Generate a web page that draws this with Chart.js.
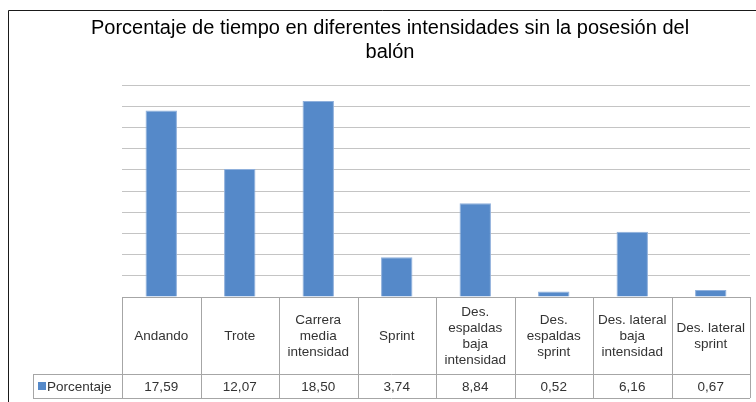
<!DOCTYPE html>
<html>
<head>
<meta charset="utf-8">
<script src="https://cdn.jsdelivr.net/npm/chart.js@4"></script>
<style>
  html, body { margin: 0; padding: 0; background: #fff; }
  #wrap { width: 756px; height: 402px; position: relative; }
</style>
</head>
<body>
<div id="wrap"><canvas id="barChart"></canvas></div>
<script>
// datos
const categorias = [
  'Andando',
  'Trote',
  ['Carrera', 'media', 'intensidad'],
  'Sprint',
  ['Des.', 'espaldas', 'baja', 'intensidad'],
  ['Des.', 'espaldas', 'sprint'],
  ['Des. lateral', 'baja', 'intensidad'],
  ['Des. lateral', 'sprint']
];
const porcentaje = [17.59, 12.07, 18.50, 3.74, 8.84, 0.52, 6.16, 0.67];
const serieNombre = 'Porcentaje';
const tituloLineas = ['Porcentaje de tiempo en diferentes intensidades sin la posesión del', 'balón'];

const barColor = '#5589c9';
const gridColor = '#c4c4c4';
const tableLine = '#a6a6a6';
const textColor = '#333333';
const fontFam = '"Liberation Sans", Arial, sans-serif';

// tabla de datos debajo del grafico
const tablaPlugin = {
  id: 'tablaDatos',
  afterDraw(chart) {
    const ctx = chart.ctx;
    const x = chart.scales.x;
    const area = chart.chartArea;
    const top = area.bottom;
    const filaVal = 374;
    const bottom = 398;
    const labelLeft = 33;
    const half = (x.getPixelForValue(1) - x.getPixelForValue(0)) / 2;
    ctx.save();
    ctx.strokeStyle = tableLine;
    ctx.lineWidth = 1;
    ctx.beginPath();
    // horizontales
    ctx.moveTo(area.left, top + 0.5); ctx.lineTo(area.right, top + 0.5);
    ctx.moveTo(labelLeft, filaVal + 0.5); ctx.lineTo(area.right, filaVal + 0.5);
    ctx.moveTo(labelLeft, bottom + 0.5); ctx.lineTo(area.right, bottom + 0.5);
    // verticales
    for (let i = 0; i <= categorias.length; i++) {
      const px = Math.round(x.getPixelForValue(0) - half + i * 2 * half) + 0.5;
      ctx.moveTo(px, top); ctx.lineTo(px, bottom);
    }
    ctx.moveTo(labelLeft + 0.5, filaVal); ctx.lineTo(labelLeft + 0.5, bottom);
    ctx.stroke();

    ctx.fillStyle = textColor;
    ctx.font = '13.5px ' + fontFam;
    ctx.textAlign = 'center';
    ctx.textBaseline = 'middle';
    const lh = 16;
    const midHead = (top + filaVal) / 2 + 1;
    categorias.forEach((c, i) => {
      const lines = Array.isArray(c) ? c : [c];
      const cx = x.getPixelForValue(i);
      const y0 = midHead - (lines.length - 1) * lh / 2;
      lines.forEach((l, j) => ctx.fillText(l, cx, y0 + j * lh));
      ctx.fillText(porcentaje[i].toFixed(2).replace('.', ','), cx, (filaVal + bottom) / 2 + 1);
    });
    // leyenda de la fila
    ctx.fillStyle = barColor;
    ctx.fillRect(38, 382, 8, 8);
    ctx.fillStyle = textColor;
    ctx.textAlign = 'left';
    ctx.fillText(serieNombre, 47, (filaVal + bottom) / 2 + 1);

    // borde exterior
    ctx.strokeStyle = '#1a1a1a';
    ctx.beginPath();
    ctx.moveTo(8.5, 402); ctx.lineTo(8.5, 10.5); ctx.lineTo(760, 10.5);
    ctx.stroke();
    ctx.restore();
  }
};

new Chart(document.getElementById('barChart'), {
  type: 'bar',
  data: {
    labels: categorias,
    datasets: [{
      label: serieNombre,
      data: porcentaje,
      backgroundColor: barColor,
      borderColor: '#8fb0dc',
      borderWidth: 1,
      categoryPercentage: 1,
      barPercentage: 0.4
    }]
  },
  options: {
    responsive: true,
    maintainAspectRatio: false,
    animation: false,
    layout: {
      padding: { left: 30, right: 6, top: 0, bottom: 105 }
    },
    plugins: {
      legend: { display: false },
      tooltip: { enabled: false },
      title: {
        display: true,
        text: tituloLineas,
        color: '#000',
        font: { family: fontFam, size: 20, weight: 'normal', lineHeight: 1.2 },
        padding: { top: 16, bottom: 21 }
      }
    },
    scales: {
      x: { display: false },
      y: {
        min: 0,
        max: 20,
        ticks: { display: false, stepSize: 2 },
        border: { display: false },
        grid: { color: gridColor, drawTicks: false },
        afterFit(scale) { scale.width = 92; }
      }
    }
  },
  plugins: [tablaPlugin]
});
</script>
</body>
</html>
